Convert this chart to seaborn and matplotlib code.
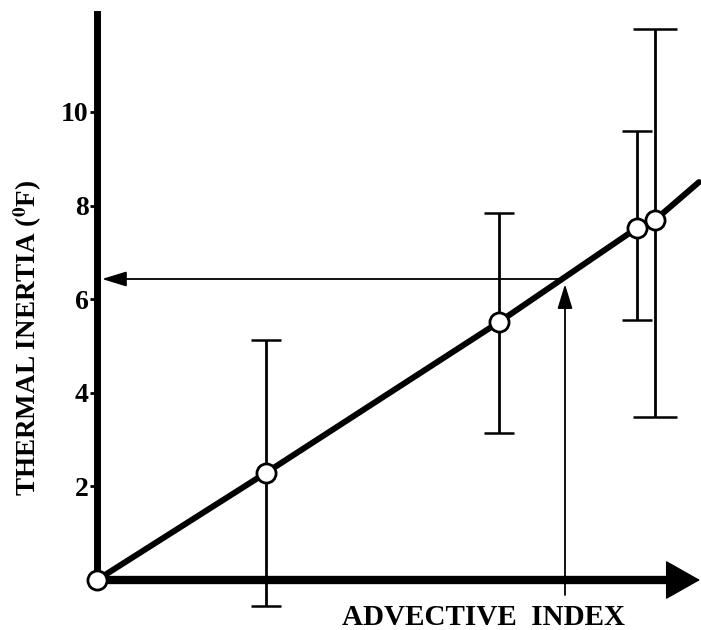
import numpy as np
import matplotlib
matplotlib.use("Agg")
import matplotlib.pyplot as plt
import seaborn as sns

# datos
adv_index = [1.69, 4.02, 5.40, 5.58]
inertia = [2.29, 5.51, 7.52, 7.69]
err_hi = [5.13, 7.84, 9.59, 11.77]
err_lo = [-0.56, 3.14, 5.56, 3.48]

# recta de ajuste (pasa por el origen)
fit_x = [0, 1.69, 4.02, 5.40, 5.58, 6.02]
fit_y = [0, 2.29, 5.51, 7.52, 7.69, 8.50]

# lectura con flechas
read_index = 4.68
read_inertia = 6.43

y_ticks = [2, 4, 6, 8, 10]

sns.set_theme(style="white")
plt.rcParams['font.family'] = ['Liberation Serif', 'DejaVu Serif']
plt.rcParams['mathtext.fontset'] = 'stix'

fig = plt.figure(figsize=(7.01, 6.30), dpi=100)
ax = fig.add_axes([0, 0, 1, 1])

# linea de ajuste
sns.lineplot(x=fit_x, y=fit_y, color="black", linewidth=4.3, ax=ax, zorder=3)

# barras de error
caps = [22, 21, 21, 32]
for xi, yi, lo, hi, cs in zip(adv_index, inertia, err_lo, err_hi, caps):
    ax.errorbar([xi], [yi], yerr=[[yi - lo], [hi - yi]], fmt="none",
                ecolor="black", elinewidth=2.0, capsize=cs / 2, capthick=1.8, zorder=2)

# puntos
pts_x = [0] + adv_index
pts_y = [0] + inertia
sns.scatterplot(x=pts_x, y=pts_y, s=190, color="white", edgecolor="black",
                linewidth=2, ax=ax, zorder=5)
ax.collections[-1].set_clip_on(False)

# flechas de lectura
flecha = "-|>,head_length=0.75,head_width=0.23"
ax.annotate("", xy=(0.05, read_inertia), xytext=(read_index, read_inertia),
            arrowprops=dict(arrowstyle=flecha, mutation_scale=20, color="black",
                            lw=1.3, shrinkA=0, shrinkB=0), zorder=1)
ax.annotate("", xy=(read_index, read_inertia - 0.11), xytext=(read_index, -0.32),
            arrowprops=dict(arrowstyle=flecha, mutation_scale=20, color="black",
                            lw=1.3, shrinkA=0, shrinkB=0), zorder=1)

# eje x con flecha
ax.plot([0, 5.75], [0, 0], color="black", lw=6, solid_capstyle="butt", zorder=4)
ax.annotate("", xy=(6.03, 0), xytext=(5.6, 0),
            arrowprops=dict(arrowstyle="-|>,head_length=1.15,head_width=0.65",
                            mutation_scale=20, color="black", lw=1,
                            shrinkA=0, shrinkB=0), zorder=4)

ax.set_xlim(-0.97, 6.04)
ax.set_ylim(-1.068, 12.39)

for s in ["top", "right", "bottom"]:
    ax.spines[s].set_visible(False)
ax.spines["left"].set_position(("data", 0))
ax.spines["left"].set_bounds(0, 12.09)
ax.spines["left"].set_linewidth(5)
ax.spines["left"].set_color("black")

ax.set_xticks([])
ax.set_yticks(y_ticks)
ax.set_yticklabels([str(t) for t in y_ticks], fontsize=20, fontweight="bold")
ax.tick_params(axis="y", direction="out", length=5, width=2, pad=1, colors="black", left=True)
ax.grid(False)

ax.set_ylabel("THERMAL INERTIA ($^{\\mathbf{0}}$F)", fontsize=19.5, fontweight="bold", color="black")
ax.yaxis.set_label_coords(0.04, 0.4635)
ax.set_xlabel("ADVECTIVE  INDEX", fontsize=21, fontweight="bold", color="black")
ax.xaxis.set_label_coords(0.69, 0.0206)
ax.xaxis.label.set_va("center")
ax.yaxis.label.set_va("center")

fig.savefig("out.png", dpi=100)
